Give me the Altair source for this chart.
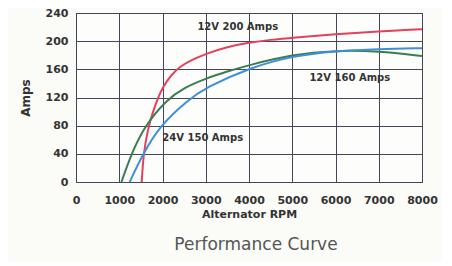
import altair as alt
import pandas as pd

rpm_200 = [1520, 1560, 1660, 1780, 1900, 2000, 2200, 2400, 2700, 3000, 3500, 4000, 4500, 5000, 6000, 7000, 8000]
amps_200 = [0, 40, 75, 100, 120, 134, 152, 164, 174, 182, 192, 198, 202, 205, 210, 214, 217]

rpm_150 = [1050, 1280, 1590, 2100, 2500, 3000, 3500, 4000, 5000, 6000, 7000, 8000]
amps_150 = [0, 40, 80, 117, 134, 147, 157, 166, 181, 187, 186, 179]

rpm_160 = [1240, 1550, 1940, 2580, 3000, 4000, 5000, 6000, 7000, 8000]
amps_160 = [0, 40, 80, 116, 134, 162, 179, 186, 189, 190]

series_names = ["12V 200 Amps", "24V 150 Amps", "12V 160 Amps"]
series_colors = ["#e3405c", "#3b7d52", "#3f8fd8"]

label_text = ["12V 200 Amps", "12V 160 Amps", "24V 150 Amps"]
label_rpm = [3740, 6330, 2930]
label_amps = [220, 147, 62]

x_ticks = [0, 1000, 2000, 3000, 4000, 5000, 6000, 7000, 8000]
y_ticks = [0, 40, 80, 120, 160, 200, 240]

rows = []
for name, xs, ys in zip(series_names, [rpm_200, rpm_150, rpm_160], [amps_200, amps_150, amps_160]):
    for i, (a, b) in enumerate(zip(xs, ys)):
        rows.append({"series": name, "rpm": a, "amps": b, "order": i})
df = pd.DataFrame(rows)
labels = pd.DataFrame({"text": label_text, "rpm": label_rpm, "amps": label_amps})

BOLD = "DejaVu Sans"

x_enc = alt.X("rpm:Q", scale=alt.Scale(domain=[0, 8000], nice=False),
              axis=alt.Axis(values=x_ticks, format="d", title="Alternator RPM", tickSize=0,
                            labelPadding=12, labelFontSize=11, labelFontWeight="bold",
                            labelColor="#333", titleFontSize=11, titleFontWeight="bold",
                            titleColor="#333", titlePadding=3, domain=False,
                            gridColor="#45455a", gridOpacity=1, labelFlush=False,
                            labelOverlap=False))
y_enc = alt.Y("amps:Q", scale=alt.Scale(domain=[0, 240], nice=False),
              axis=alt.Axis(values=y_ticks, format="d", title="Amps", tickSize=0, labelPadding=8,
                            labelFontSize=11, labelFontWeight="bold", labelColor="#333",
                            titleFontSize=12, titleFontWeight="bold", titleColor="#333",
                            titlePadding=13, domain=False, gridColor="#45455a",
                            gridOpacity=1, labelOverlap=False, labelFlush=False))

lines = alt.Chart(df).mark_line(strokeWidth=2, interpolate="basis").encode(
    x=x_enc, y=y_enc,
    color=alt.Color("series:N", scale=alt.Scale(domain=series_names, range=series_colors), legend=None),
    order="order:Q",
)

texts = alt.Chart(labels).mark_text(fontSize=10, fontWeight="bold", color="#333", font=BOLD).encode(
    x=x_enc, y=y_enc, text="text:N"
)

chart = alt.layer(lines, texts).properties(
    width=346, height=169,
    autosize=alt.AutoSizeParams(type="none"),
    padding={"left": 68, "top": 5, "right": 20, "bottom": 80},
    background="#fbfbf8",
    title=alt.TitleParams("Performance Curve", orient="bottom", fontSize=17,
                          fontWeight="normal", color="#555", offset=18, anchor="middle",
                          font="DejaVu Sans", dx=7),
).configure_view(stroke="#45455a", strokeWidth=1, fill="#fdfdfb").configure_axis(
    labelFont=BOLD, titleFont=BOLD, gridWidth=1
).configure_text(font=BOLD)

chart.save("out.html", embed_options={"renderer": "svg", "actions": False})
